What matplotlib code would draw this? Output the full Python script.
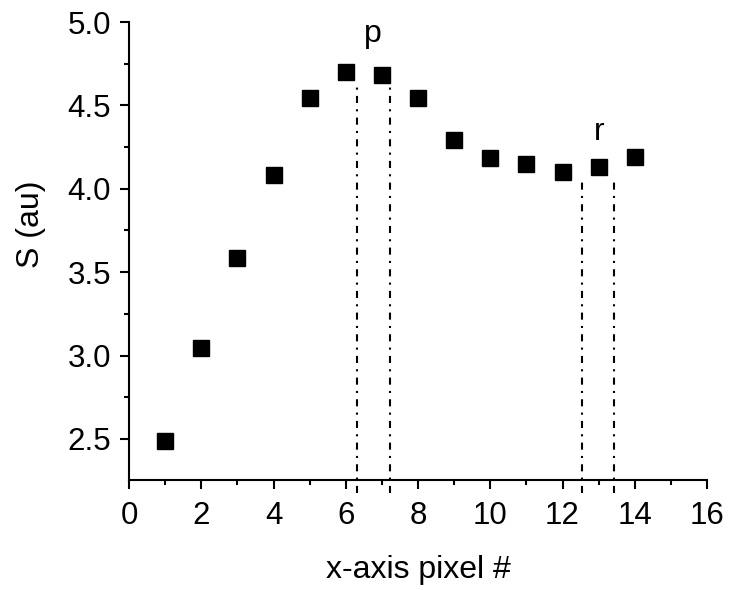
import matplotlib
matplotlib.use("Agg")
import matplotlib.pyplot as plt
from matplotlib.ticker import MultipleLocator

pixel = [1, 2, 3, 4, 5, 6, 7, 8, 9, 10, 11, 12, 13, 14]
signal = [2.49, 3.045, 3.585, 4.083, 4.545, 4.70, 4.682, 4.545, 4.293, 4.185, 4.149, 4.10, 4.13, 4.19]
p_lines = [6.32, 7.22]
p_top = 4.634
r_lines = [12.54, 13.42]
r_top = 4.065
line_bottom = 2.176
yticks = [2.5, 3.0, 3.5, 4.0, 4.5, 5.0]
ytick_labels = ['2.5', '3.0', '3.5', '4.0', '4.5', '5.0']

plt.rcParams['font.family'] = ['Liberation Sans', 'DejaVu Sans']

fig = plt.figure(figsize=(7.31, 5.90), dpi=100)
ax = fig.add_axes([129/731, 1-480/590, (707-129)/731, (480-22)/590])

ax.plot(pixel, signal, linestyle='none', marker='s', markersize=11.5, color='black')

dash = (0, (3.4, 3, 1, 3))
for xv in p_lines:
    ax.plot([xv, xv], [line_bottom, p_top], color='black', lw=1.5,
            linestyle=dash, clip_on=False)
for xv in r_lines:
    ax.plot([xv, xv], [line_bottom, r_top], color='black', lw=1.5,
            linestyle=dash, clip_on=False)

ax.text(6.76, 4.93, 'p', fontsize=23, ha='center', va='center')
ax.text(13.02, 4.34, 'r', fontsize=23, ha='center', va='center')

ax.set_xlim(0, 16)
ax.set_ylim(2.254, 5.0)
ax.xaxis.set_major_locator(MultipleLocator(2))
ax.xaxis.set_minor_locator(MultipleLocator(1))
ax.yaxis.set_minor_locator(MultipleLocator(0.25))
ax.set_yticks(yticks)
ax.set_yticklabels(ytick_labels)

for s in ['top', 'right']:
    ax.spines[s].set_visible(False)
for s in ['left', 'bottom']:
    ax.spines[s].set_linewidth(1.5)

ax.tick_params(which='major', direction='out', length=6.5, width=1.5, labelsize=22.5)
ax.tick_params(axis='x', which='major', pad=8.5)
ax.tick_params(axis='y', which='major', pad=6.5)
ax.tick_params(which='minor', direction='out', length=3.5, width=1.5)

ax.set_xlabel('x-axis pixel #', fontsize=23)
ax.xaxis.set_label_coords(0.5, -0.1638)
ax.set_ylabel('S (au)', fontsize=23)
ax.yaxis.set_label_coords(-0.1436, 0.559)

fig.savefig('out.png', dpi=100)
